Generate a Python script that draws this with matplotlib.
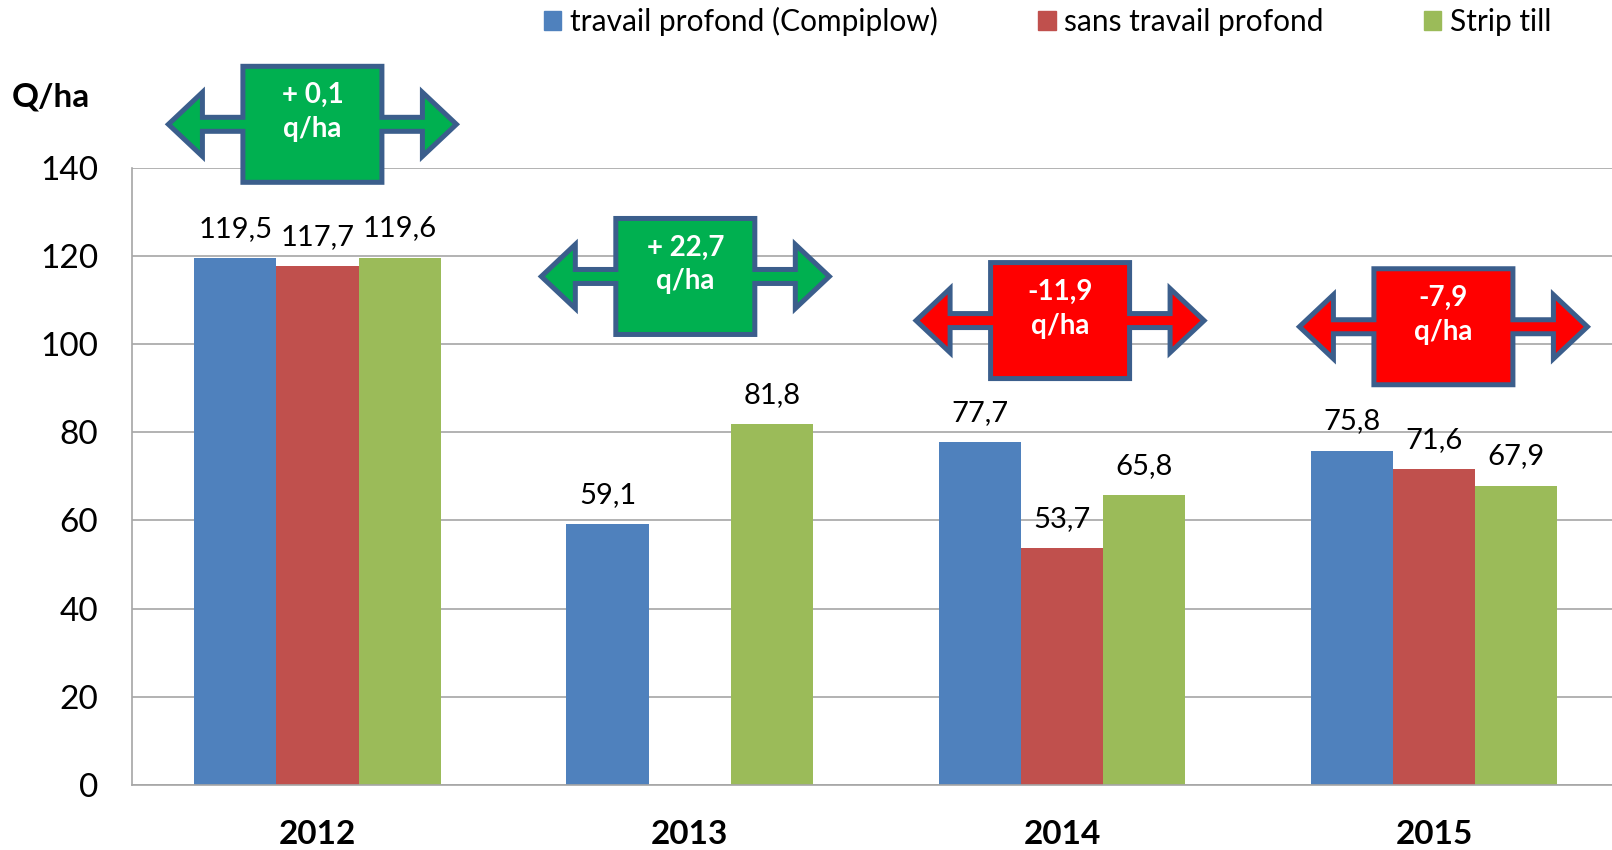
import matplotlib
matplotlib.use("Agg")
import matplotlib.pyplot as plt
import numpy as np
from matplotlib.patches import Polygon, Patch

plt.rcParams['font.family'] = ['Lato', 'DejaVu Sans']

years = ['2012', '2013', '2014', '2015']
series = ['travail profond (Compiplow)', 'sans travail profond', 'Strip till']
compiplow = [119.5, 59.1, 77.7, 75.8]
sans_tp = [117.7, np.nan, 53.7, 71.6]
strip_till = [119.6, 81.8, 65.8, 67.9]
diff_labels = ['+ 0,1', '+ 22,7', '-11,9', '-7,9']
diff_positive = [True, True, False, False]

colors = ['#4F81BD', '#C0504D', '#9BBB59']
W, H = 1612, 850

fig = plt.figure(figsize=(W / 100, H / 100), dpi=100)
ax = fig.add_axes([0.0816, 0.0765, 0.9184, 0.7264])

x = np.arange(len(years))
w = 0.221
for i, (vals, c) in enumerate(zip([compiplow, sans_tp, strip_till], colors)):
    bars = ax.bar(x + (i - 1) * w, vals, w, color=c, zorder=2)
    for b, v in zip(bars, vals):
        if np.isnan(v):
            continue
        ax.annotate(f'{v:.1f}'.replace('.', ','), (b.get_x() + b.get_width() / 2, v),
                    xytext=(0, 21), textcoords='offset points', ha='center', va='center',
                    fontsize=21, color='black')

ax.set_xlim(-0.5, 3.478)
ax.set_ylim(0, 140)
ax.set_yticks(range(0, 141, 20))
ax.set_xticks(x)
ax.set_xticklabels(years, fontsize=24, fontweight='bold')
ax.tick_params(axis='y', length=0, pad=24, labelsize=24)
ax.tick_params(axis='x', length=0, pad=25)
ax.yaxis.grid(True, color='#A6A6A6', linewidth=1.2, zorder=0)
ax.set_axisbelow(True)
for s in ['top', 'right']:
    ax.spines[s].set_visible(False)
for s in ['left', 'bottom']:
    ax.spines[s].set_color('#A6A6A6')
    ax.spines[s].set_linewidth(1.2)

fig.text(12 / W, 1 - 97 / H, 'Q/ha', fontsize=24, fontweight='bold', ha='left', va='center')

handles = [Patch(color=c) for c in colors]
fig.legend(handles, series, loc='center left', bbox_to_anchor=(544 / W, 1 - 21.6 / H),
           ncol=3, frameon=False, fontsize=21.5, handlelength=0.58, handleheight=0.58,
           handletextpad=0.3, columnspacing=3.35, borderpad=0, borderaxespad=0)

# double arrows with the difference vs. sans travail profond
arrow_y = [149.8, 115.3, 105.3, 103.9]
arrow_dx = [-0.014, -0.012, -0.005, 0.025]
hw, bw, bh, hh, sh, hl = 144, 69.5, 58, 32, 7, 34
shape = np.array([(-hw, 0), (-hw + hl, hh), (-hw + hl, sh), (-bw, sh), (-bw, bh), (bw, bh),
                  (bw, sh), (hw - hl, sh), (hw - hl, hh), (hw, 0), (hw - hl, -hh),
                  (hw - hl, -sh), (bw, -sh), (bw, -bh), (-bw, -bh), (-bw, -sh),
                  (-hw + hl, -sh), (-hw + hl, -hh)], dtype=float)
for i, (lab, pos) in enumerate(zip(diff_labels, diff_positive)):
    cx, cy = ax.transData.transform((x[i] + arrow_dx[i], arrow_y[i]))
    pts = (shape + [cx, cy]) / [W, H]
    fill = '#00B050' if pos else '#FF0000'
    fig.add_artist(Polygon(pts, closed=True, transform=fig.transFigure, facecolor=fill,
                           edgecolor='#3B5E8C', linewidth=3.6, joinstyle='miter', zorder=5))
    fig.text(cx / W, (cy + 29) / H, lab, fontsize=20, fontweight='bold', color='white',
             ha='center', va='center', zorder=6)
    fig.text(cx / W, (cy - 5) / H, 'q/ha', fontsize=20, fontweight='bold', color='white',
             ha='center', va='center', zorder=6)

fig.savefig('out.png', dpi=100)
